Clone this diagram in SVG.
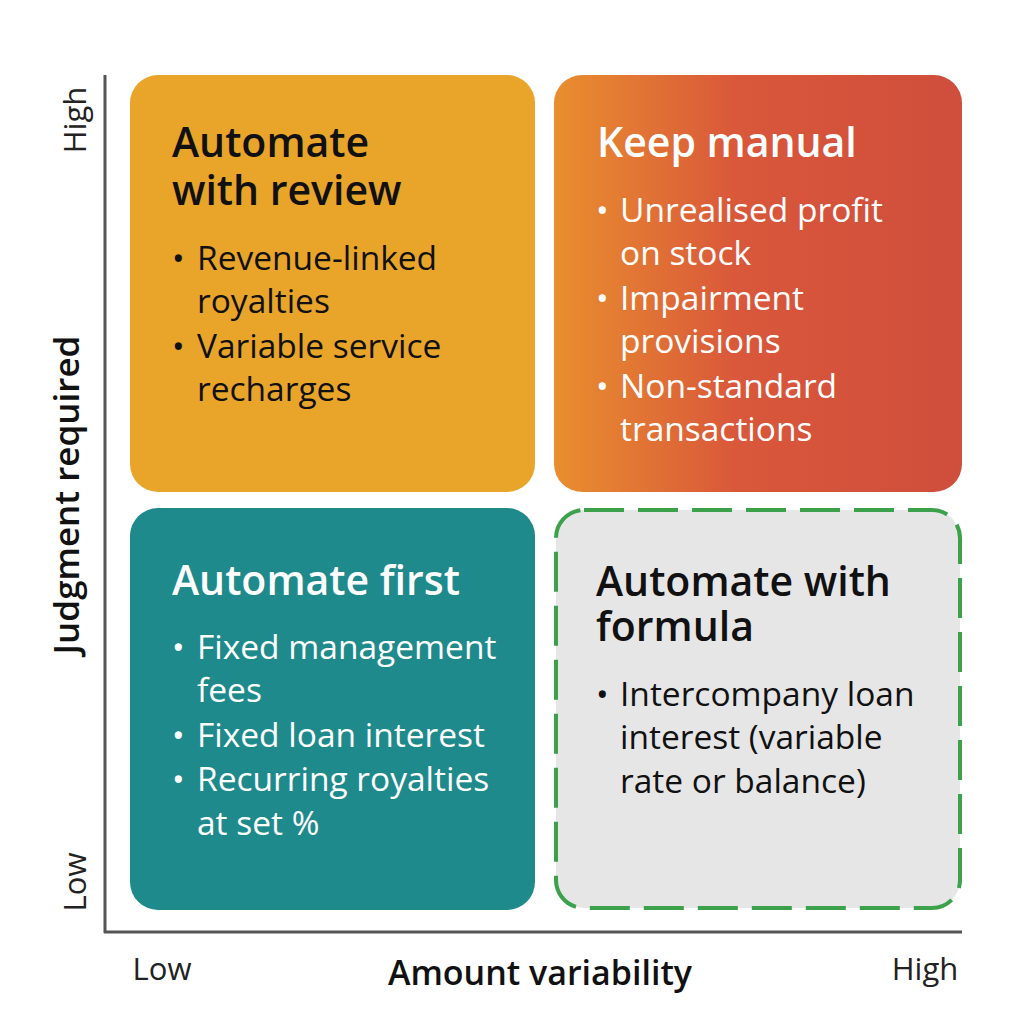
<svg xmlns="http://www.w3.org/2000/svg" width="1024" height="1024" viewBox="0 0 1024 1024">
<style>
text{font-family:"Open Sans","Noto Sans",sans-serif}
.t{font-size:41px;font-weight:600}
.b{font-size:33.5px}
.w{fill:#fff}.k{fill:#111}
.ax{font-size:31px;fill:#222}
</style>
<defs><linearGradient id="g" x1="0" x2="1"><stop offset="0" stop-color="#E98F2F"/><stop offset="0.45" stop-color="#D9573A"/><stop offset="1" stop-color="#CF4E3C"/></linearGradient></defs>
<rect width="1024" height="1024" fill="#fff"/>
<g id="axes" stroke="#555" stroke-width="3"><line x1="105" y1="75" x2="105" y2="933"/><line x1="104" y1="932" x2="962" y2="932"/></g>
<g id="tl"><rect x="130" y="75" width="405" height="417" rx="28" fill="#E9A42A"/>
<text class="t k" x="172" y="157">Automate</text><text class="t k" x="172" y="205">with review</text>
<text class="b k" x="172" y="270">•</text><text class="b k" x="197" y="270">Revenue-linked</text><text class="b k" x="197" y="313">royalties</text>
<text class="b k" x="172" y="358">•</text><text class="b k" x="197" y="358">Variable service</text><text class="b k" x="197" y="401">recharges</text></g>
<g id="tr"><rect x="554" y="75" width="408" height="417" rx="28" fill="url(#g)"/>
<text class="t w" x="597" y="157">Keep manual</text>
<text class="b w" x="596" y="222">•</text><text class="b w" x="620" y="222">Unrealised profit</text><text class="b w" x="620" y="265">on stock</text>
<text class="b w" x="596" y="310">•</text><text class="b w" x="620" y="310">Impairment</text><text class="b w" x="620" y="353">provisions</text>
<text class="b w" x="596" y="398">•</text><text class="b w" x="620" y="398">Non-standard</text><text class="b w" x="620" y="441">transactions</text></g>
<g id="bl"><rect x="130" y="508" width="405" height="402" rx="28" fill="#1F8A8C"/>
<text class="t w" x="172" y="595">Automate first</text>
<text class="b w" x="172" y="659">•</text><text class="b w" x="197" y="659">Fixed management</text><text class="b w" x="197" y="702">fees</text>
<text class="b w" x="172" y="747">•</text><text class="b w" x="197" y="747">Fixed loan interest</text>
<text class="b w" x="172" y="791">•</text><text class="b w" x="197" y="791">Recurring royalties</text><text class="b w" x="197" y="835">at set %</text></g>
<g id="br"><rect x="556" y="510" width="404" height="398" rx="28" fill="#E6E6E6" stroke="#3BA24B" stroke-width="4" stroke-dasharray="40 14"/>
<text class="t k" x="596" y="596">Automate with</text><text class="t k" x="596" y="641">formula</text>
<text class="b k" x="596" y="706">•</text><text class="b k" x="620" y="706">Intercompany loan</text><text class="b k" x="620" y="749">interest (variable</text><text class="b k" x="620" y="793">rate or balance)</text></g>
<g id="labels">
<text class="ax" transform="translate(86,120) rotate(-90)" text-anchor="middle">High</text>
<text class="ax" transform="translate(86,882) rotate(-90)" text-anchor="middle">Low</text>
<text transform="translate(79,495) rotate(-90)" text-anchor="middle" font-size="35" font-weight="600" fill="#111">Judgment required</text>
<text class="ax" x="162" y="980" text-anchor="middle">Low</text>
<text class="ax" x="925" y="980" text-anchor="middle">High</text>
<text x="540" y="985" text-anchor="middle" font-size="34" font-weight="600" fill="#111">Amount variability</text>
</g>
</svg>
